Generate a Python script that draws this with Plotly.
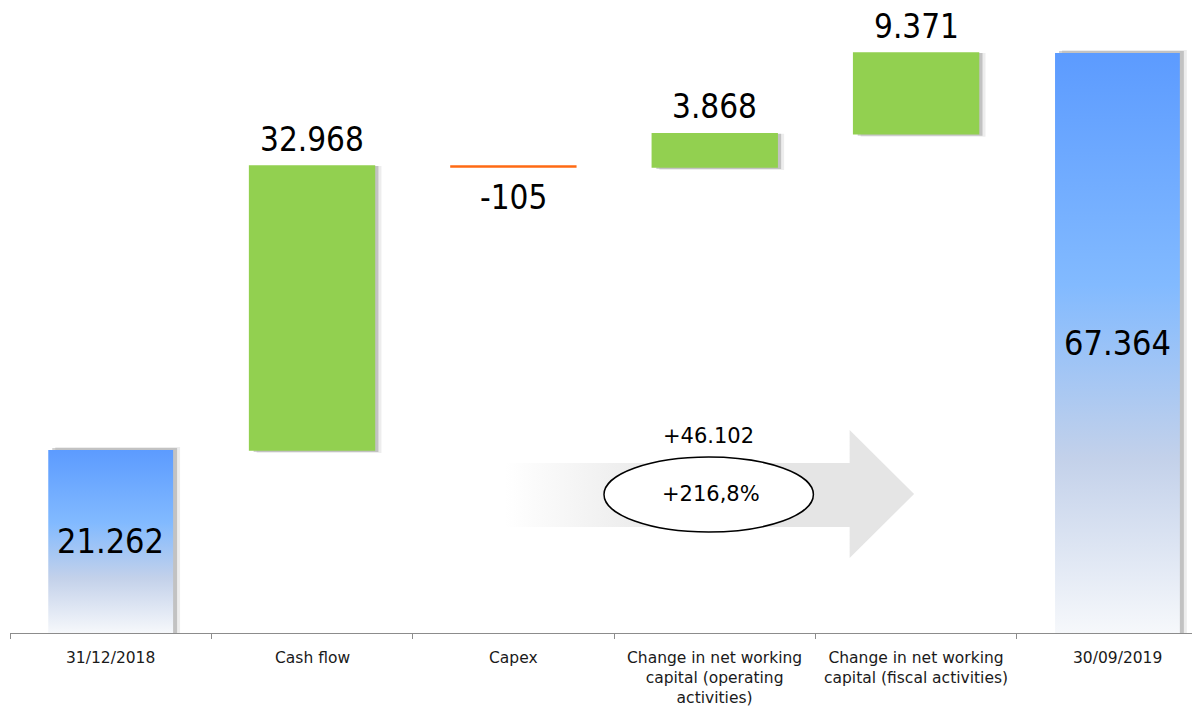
import plotly.graph_objects as go
import numpy as np

# values in units (21.262 = 21262)
categories = ['31/12/2018', 'Cash flow', 'Capex',
              'Change in net working<br>capital (operating<br>activities)',
              'Change in net working<br>capital (fiscal activities)',
              '30/09/2019']
start_total = 21262
deltas = [32968, -105, 3868, 9371]
end_total = 67364
change_abs = '+46.102'
change_pct = '+216,8%'

def fmt(v):
    s = '{:,}'.format(abs(v)).replace(',', '.')
    return ('-' if v < 0 else '') + s

BIG = 'DejaVu Sans Condensed, DejaVu Sans, sans-serif'
FONT = 'DejaVu Sans, sans-serif'
GREEN = '#92d050'
ORANGE = '#ff6a13'
W = 0.62
YMAX = 72590

xs = np.arange(len(categories))
steps = np.cumsum([start_total] + deltas)
bases = steps[:-1]          # where each delta starts
tops = steps[1:]
delta_x = xs[1:5]

fig = go.Figure()

# soft shadows behind the bars
px_x = 1 / 201.4
px_y = YMAX / 625
shadow_x = list(xs[[0]]) + list(delta_x) + list(xs[[5]])
shadow_h = [start_total] + [abs(d) for d in deltas] + [end_total]
shadow_b = [0] + [min(b, t) for b, t in zip(bases, tops)] + [0]
keep = [i for i in range(len(shadow_x)) if shadow_h[i] > 1000]
for dx, dy, col in [(7, 3, 'rgba(0,0,0,0.07)'), (4, 2, 'rgba(0,0,0,0.18)')]:
    fig.add_trace(go.Bar(
        x=[shadow_x[i] for i in keep],
        y=[shadow_h[i] + dy * px_y for i in keep],
        base=[max(shadow_b[i] - dy * px_y, 0) for i in keep],
        width=W, offset=-W / 2 + dx * px_x,
        marker=dict(color=col, line=dict(width=0)),
        hoverinfo='skip', showlegend=False))

# totals with vertical gradient
for cx, val in [(xs[0], start_total), (xs[5], end_total)]:
    fig.add_trace(go.Scatter(
        x=[cx - W / 2, cx + W / 2, cx + W / 2, cx - W / 2, cx - W / 2],
        y=[0, 0, val, val, 0],
        mode='lines', fill='toself', line=dict(width=0),
        fillgradient=dict(type='vertical',
                          colorscale=[[0, '#f6f8fb'], [0.3, '#c3d1ea'],
                                      [0.6, '#82baff'], [1, '#5c9bff']]),
        hoverinfo='skip', showlegend=False))

# deltas
colors = [GREEN if d > 0 else ORANGE for d in deltas]
fig.add_trace(go.Bar(
    x=delta_x, y=[abs(d) for d in deltas],
    base=[min(b, t) for b, t in zip(bases, tops)],
    width=W, marker=dict(color=colors, line=dict(color=colors, width=1.5)),
    hoverinfo='skip', showlegend=False))

# grey arrow with fading tail
ax = [1.96, 3.67, 3.67, 3.99, 3.67, 3.67, 1.96, 1.96]
ay = [19744, 19744, 23576, 16143, 8710, 12311, 12311, 19744]
fig.add_trace(go.Scatter(
    x=ax, y=ay, mode='lines', fill='toself', line=dict(width=0),
    fillgradient=dict(type='horizontal',
                      colorscale=[[0, 'rgba(229,229,229,0)'], [0.45, '#e5e5e5'],
                                  [1, '#e5e5e5']]),
    hoverinfo='skip', showlegend=False))

fig.add_shape(type='circle', xref='x', yref='y', x0=2.45, x1=3.49,
              y0=11730, y1=20441, line=dict(color='black', width=1.5),
              fillcolor='white', layer='above')

ann = []
ann.append(dict(x=xs[0], y=start_total / 2, text=fmt(start_total),
                font=dict(size=34, family=BIG)))
ann.append(dict(x=xs[5], y=end_total / 2, text=fmt(end_total),
                font=dict(size=34, family=BIG)))
for cx, d, b, t in zip(delta_x, deltas, bases, tops):
    if d > 0:
        ann.append(dict(x=cx, y=t, yshift=27, text=fmt(d), borderpad=0,
                        font=dict(size=33, family=BIG)))
    else:
        ann.append(dict(x=cx, y=b, yshift=-31, text=fmt(d),
                        font=dict(size=33, family=BIG)))
ann.append(dict(x=2.97, y=22900, text=change_abs,
                font=dict(size=21, family=FONT)))
ann.append(dict(x=2.98, y=16143, text=change_pct,
                font=dict(size=21, family=FONT)))
for a in ann:
    a.update(xref='x', yref='y', showarrow=False, xanchor='center',
             yanchor='middle')
    a['font'].update(color='black')
for cx, lab in zip(xs, categories):
    ann.append(dict(x=cx, y=0, xref='x', yref='paper', yanchor='top',
                    xanchor='center', yshift=-14, showarrow=False, text=lab,
                    font=dict(family=FONT, size=15.5, color='#1a1a1a')))

fig.update_layout(
    width=1192, height=702,
    margin=dict(l=2, r=0, t=0, b=77),
    paper_bgcolor='white', plot_bgcolor='white',
    barmode='overlay', annotations=ann,
    xaxis=dict(range=[-0.5, 5.41], showgrid=False, zeroline=False,
               showline=True, linecolor='#8c8c8c', linewidth=1,
               tickvals=list(np.arange(-0.5, 6, 1)), ticks='outside',
               ticklen=5, tickcolor='#8c8c8c', showticklabels=False),
    yaxis=dict(range=[0, YMAX], visible=False),
)

fig.write_html('out.html')
